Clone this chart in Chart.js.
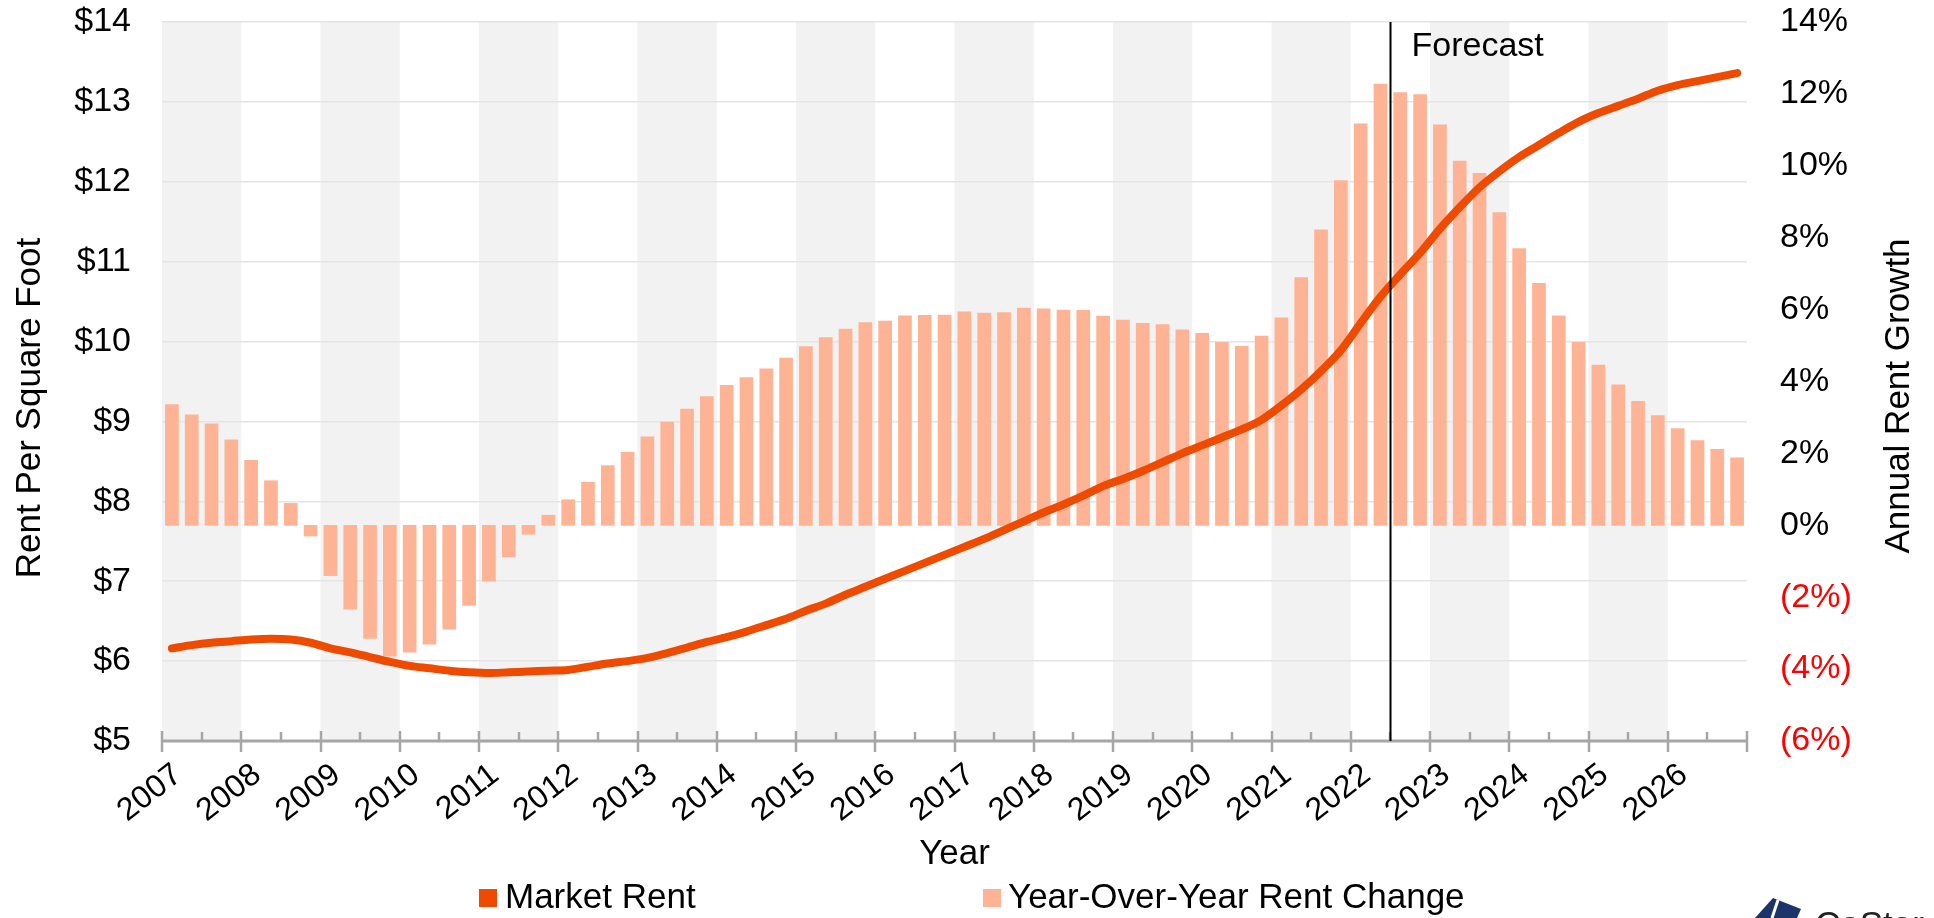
<!DOCTYPE html>
<html>
<head>
<meta charset="utf-8">
<title>Market Rent</title>
<script src="https://cdn.jsdelivr.net/npm/chart.js@4.4.1/dist/chart.umd.min.js"></script>
<style>
    html, body { margin: 0; padding: 0; background: #ffffff; }
</style>
</head>
<body>
<canvas id="market-rent-chart" width="1934" height="918"></canvas>
<script>
// Years on the axis, one bar / point per quarter
const years = [2007, 2008, 2009, 2010, 2011, 2012, 2013, 2014, 2015, 2016,
               2017, 2018, 2019, 2020, 2021, 2022, 2023, 2024, 2025, 2026];
const quarters = ['Q1', 'Q2', 'Q3', 'Q4'];

// Market rent, $ per square foot (quarterly)
const marketRent = [
    6.16, 6.20, 6.23, 6.25,   6.27, 6.28, 6.27, 6.23,   6.16, 6.11, 6.05, 5.99,
    5.94, 5.91, 5.88, 5.86,   5.85, 5.86, 5.87, 5.88,   5.89, 5.93, 5.97, 6.00,
    6.04, 6.10, 6.17, 6.24,   6.30, 6.37, 6.45, 6.53,   6.63, 6.72, 6.83, 6.93,
    7.03, 7.13, 7.23, 7.33,   7.43, 7.53, 7.64, 7.75,   7.86, 7.96, 8.07, 8.19,
    8.28, 8.38, 8.49, 8.60,   8.70, 8.80, 8.90, 9.02,   9.20, 9.40, 9.63, 9.89,
    10.23, 10.56, 10.84, 11.11, 11.41, 11.68, 11.93, 12.13, 12.31, 12.46, 12.61, 12.75,
    12.86, 12.95, 13.04, 13.14, 13.21, 13.26, 13.31, 13.36
];

// Year-over-year rent change, % (quarterly)
const yoyChange = [
    3.36, 3.07, 2.82, 2.38,   1.81, 1.24, 0.61, -0.30,  -1.40, -2.33, -3.15, -3.64,
    -3.53, -3.31, -2.89, -2.23, -1.55, -0.88, -0.25, 0.28, 0.71, 1.20, 1.66, 2.03,
    2.46, 2.87, 3.23, 3.58,   3.89, 4.11, 4.35, 4.65,   4.97, 5.22, 5.46, 5.64,
    5.68, 5.83, 5.84, 5.85,   5.94, 5.90, 5.92, 6.04,   6.02, 5.99, 5.98, 5.82,
    5.71, 5.62, 5.58, 5.44,   5.34, 5.09, 4.98, 5.26,   5.77, 6.89, 8.22, 9.59,
    11.17, 12.27, 12.04, 11.98, 11.14, 10.13, 9.79, 8.70, 7.70, 6.73, 5.83, 5.09,
    4.46, 3.91, 3.45, 3.05,   2.69, 2.36, 2.11, 1.88
];

// Axis ranges / ticks
const rentTicks = [5, 6, 7, 8, 9, 10, 11, 12, 13, 14];
const growthTicks = [-6, -4, -2, 0, 2, 4, 6, 8, 10, 12, 14];
const forecastStart = 2022.5;

const FONT = "'Liberation Sans', Arial, sans-serif";
const RENT_COLOR = '#EE4B00';
const CHANGE_COLOR = '#FDB394';

// quarter label -> position on the time axis (middle of the quarter)
const quarterLabels = years.flatMap(y => quarters.map(q => `${y} ${q}`));
const quarterTime = quarterLabels.map(l => {
    const [y, q] = l.split(' ');
    return Number(y) + (Number(q.slice(1)) - 0.5) / 4;
});

const rentPoints = quarterTime.map((t, i) => ({ x: t, y: marketRent[i] }));
const changePoints = quarterTime.map((t, i) => ({ x: t, y: yoyChange[i] }));

// Draws shaded year bands, axis line, ticks, forecast marker, titles and legend
const decorPlugin = {
    id: 'decor',
    beforeDraw(chart) {
        const { ctx, chartArea, scales } = chart;
        ctx.save();
        ctx.fillStyle = '#F2F2F2';
        years.forEach((y, i) => {
            if (i % 2 === 0) {
                const x0 = scales.x.getPixelForValue(y);
                const x1 = scales.x.getPixelForValue(y + 1);
                ctx.fillRect(x0, chartArea.top, x1 - x0, chartArea.bottom - chartArea.top);
            }
        });
        ctx.restore();
    },
    afterDatasetsDraw(chart) {
        const { ctx, chartArea, scales } = chart;
        const x = scales.x;
        const bottom = chartArea.bottom;
        ctx.save();

        // x axis line and ticks
        ctx.strokeStyle = '#A6A6A6';
        ctx.lineWidth = 3;
        ctx.beginPath();
        ctx.moveTo(chartArea.left, bottom);
        ctx.lineTo(chartArea.right, bottom);
        ctx.stroke();
        const allYears = years.concat([years[years.length - 1] + 1]);
        ctx.lineWidth = 2.5;
        allYears.forEach(y => {
            const px = Math.round(x.getPixelForValue(y));
            ctx.beginPath();
            ctx.moveTo(px, bottom - 10);
            ctx.lineTo(px, bottom + 11);
            ctx.stroke();
        });
        years.forEach(y => {
            const px = Math.round(x.getPixelForValue(y + 0.5));
            ctx.beginPath();
            ctx.moveTo(px, bottom - 9);
            ctx.lineTo(px, bottom);
            ctx.stroke();
        });

        // forecast marker
        const fx = Math.round(x.getPixelForValue(forecastStart)) + 0.5;
        ctx.strokeStyle = '#000000';
        ctx.lineWidth = 2;
        ctx.beginPath();
        ctx.moveTo(fx, chartArea.top);
        ctx.lineTo(fx, bottom);
        ctx.stroke();
        ctx.fillStyle = '#000000';
        ctx.font = `34px ${FONT}`;
        ctx.textAlign = 'left';
        ctx.textBaseline = 'alphabetic';
        ctx.fillText('Forecast', fx + 21, 56);
        ctx.restore();
    },
    afterDraw(chart) {
        const { ctx, chartArea } = chart;
        ctx.save();
        ctx.fillStyle = '#000000';
        ctx.font = `35px ${FONT}`;
        ctx.textAlign = 'center';
        ctx.textBaseline = 'middle';

        // axis titles
        ctx.fillText('Year', (chartArea.left + chartArea.right) / 2, 854);
        ctx.save();
        ctx.translate(30, 408);
        ctx.rotate(-Math.PI / 2);
        ctx.fillText('Rent Per Square Foot', 0, 0);
        ctx.restore();
        ctx.save();
        ctx.translate(1899, 396);
        ctx.rotate(-Math.PI / 2);
        ctx.fillText('Annual Rent Growth', 0, 0);
        ctx.restore();

        // legend
        ctx.textAlign = 'left';
        ctx.fillStyle = RENT_COLOR;
        ctx.fillRect(479, 889, 18, 18);
        ctx.fillStyle = CHANGE_COLOR;
        ctx.fillRect(983, 889, 18, 18);
        ctx.fillStyle = '#000000';
        ctx.fillText('Market Rent', 505, 898);
        ctx.fillText('Year-Over-Year Rent Change', 1008, 898);

        // logo (cut off at the bottom edge)
        ctx.fillStyle = '#1B3568';
        ctx.beginPath();
        ctx.moveTo(1755, 918);
        ctx.lineTo(1773, 898);
        ctx.lineTo(1801, 909);
        ctx.lineTo(1797, 918);
        ctx.closePath();
        ctx.fill();
        ctx.strokeStyle = '#ffffff';
        ctx.lineWidth = 3;
        ctx.beginPath();
        ctx.moveTo(1778, 900);
        ctx.lineTo(1772, 918);
        ctx.stroke();
        ctx.fillStyle = '#222222';
        ctx.textBaseline = 'alphabetic';
        ctx.fillText('CoStar', 1815, 936);
        ctx.restore();
    }
};

// no extra room above / below for the first and last tick label
function noTickPadding(scale) {
    scale.paddingTop = 0;
    scale.paddingBottom = 0;
}

const ctx = document.getElementById('market-rent-chart').getContext('2d');
Chart.defaults.font.family = FONT;
Chart.defaults.font.size = 34;
Chart.defaults.color = '#000000';

const rentChart = new Chart(ctx, {
    type: 'bar',
    data: {
        datasets: [
            {
                type: 'line',
                label: 'Market Rent',
                data: rentPoints,
                yAxisID: 'y',
                borderColor: RENT_COLOR,
                backgroundColor: RENT_COLOR,
                borderWidth: 8,
                borderCapStyle: 'round',
                borderJoinStyle: 'round',
                pointRadius: 0,
                cubicInterpolationMode: 'monotone',
                order: 0
            },
            {
                type: 'bar',
                label: 'Year-Over-Year Rent Change',
                data: changePoints,
                yAxisID: 'y2',
                backgroundColor: CHANGE_COLOR,
                barThickness: 13,
                order: 1
            }
        ]
    },
    options: {
        responsive: false,
        animation: false,
        devicePixelRatio: 1,
        layout: { padding: { top: 22, left: 0, right: 0, bottom: 0 } },
        plugins: {
            legend: { display: false },
            tooltip: { enabled: false }
        },
        scales: {
            x: {
                type: 'linear',
                min: years[0],
                max: years[years.length - 1] + 1,
                offset: false,
                grid: { display: false, drawTicks: false },
                border: { display: false },
                afterBuildTicks: scale => {
                    scale.ticks = years.map(y => ({ value: y }));
                },
                ticks: {
                    autoSkip: false,
                    minRotation: 38,
                    maxRotation: 38,
                    padding: 15,
                    labelOffset: 16,
                    font: { size: 32 },
                    callback: v => String(v)
                },
                afterFit: scale => { scale.height = 177; }
            },
            y: {
                position: 'left',
                min: rentTicks[0],
                max: rentTicks[rentTicks.length - 1],
                afterBuildTicks: scale => {
                    scale.ticks = rentTicks.map(v => ({ value: v }));
                },
                ticks: {
                    padding: 31,
                    callback: v => '$' + v
                },
                grid: { color: '#E4E4E4', lineWidth: 1.5, drawTicks: false },
                border: { display: false },
                afterFit: scale => { scale.width = 162; noTickPadding(scale); }
            },
            y2: {
                position: 'right',
                min: growthTicks[0],
                max: growthTicks[growthTicks.length - 1],
                afterBuildTicks: scale => {
                    scale.ticks = growthTicks.map(v => ({ value: v }));
                },
                ticks: {
                    padding: 33,
                    color: c => (c.tick && c.tick.value < 0 ? '#FF0000' : '#000000'),
                    callback: v => (v < 0 ? `(${-v}%)` : `${v}%`)
                },
                grid: { display: false, drawTicks: false },
                border: { display: false },
                afterFit: scale => { scale.width = 187; noTickPadding(scale); }
            }
        }
    },
    plugins: [decorPlugin]
});
</script>
</body>
</html>
